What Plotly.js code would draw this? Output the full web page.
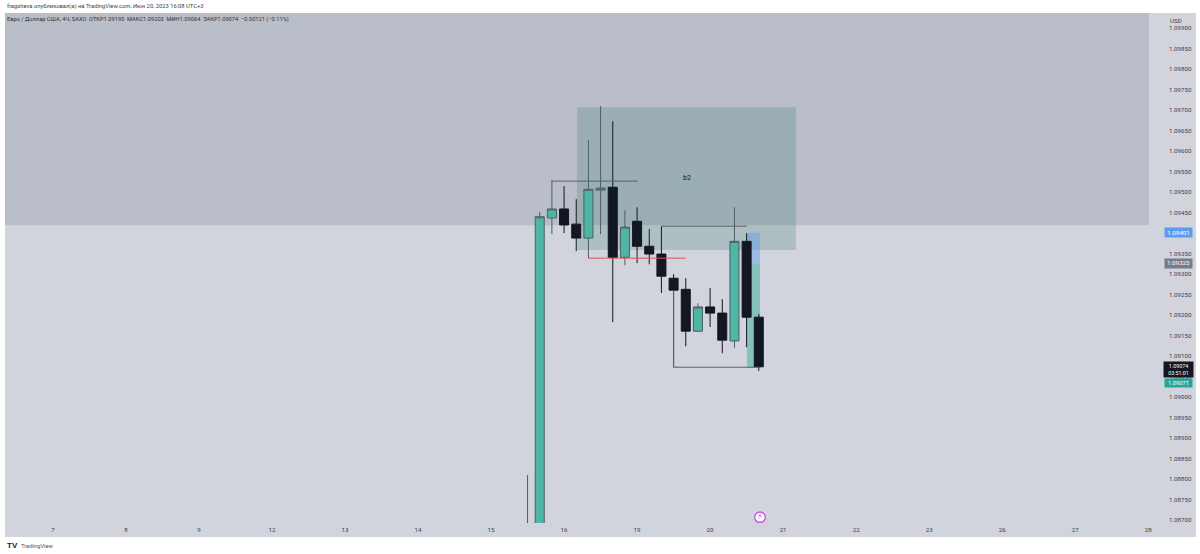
<!DOCTYPE html>
<html>
<head>
<meta charset="utf-8">
<script src="https://cdn.plot.ly/plotly-3.0.1.min.js"></script>
<style>
  html, body { margin: 0; padding: 0; background: #fff; }
  #graph { width: 1200px; height: 554px; }
</style>
</head>
<body>
<div id="graph"></div>
<script>
// bar index 0 is the "7" session, six 4h bars per day
const barIdx = [39, 40, 41, 42, 43, 44, 45, 46, 47, 48, 49, 50, 51, 52, 53, 54, 55, 56, 57, 58]
const opens = [1.0866, 1.0868, 1.09437, 1.09459, 1.09422, 1.09388, 1.09505, 1.09512, 1.09341, 1.09429, 1.09368, 1.09349, 1.0929, 1.09263, 1.09161, 1.0922, 1.09205, 1.09137, 1.0938, 1.09195]
const highs = [1.0881, 1.09452, 1.09529, 1.09515, 1.09483, 1.09627, 1.0971, 1.09673, 1.09456, 1.09463, 1.0941, 1.09417, 1.093, 1.0929, 1.09229, 1.09266, 1.09239, 1.09463, 1.094, 1.09203]
const lows = [1.0865, 1.0867, 1.09398, 1.094, 1.09356, 1.09339, 1.09398, 1.09183, 1.09322, 1.09327, 1.09324, 1.09254, 1.09073, 1.09124, 1.09159, 1.09171, 1.09107, 1.0912, 1.09122, 1.09064]
const closes = [1.0868, 1.0944, 1.09459, 1.0942, 1.09388, 1.09507, 1.0951, 1.09341, 1.09415, 1.09368, 1.09349, 1.09295, 1.09261, 1.09161, 1.0922, 1.09205, 1.09139, 1.0938, 1.09195, 1.09074]

const dayTicks = [0, 6, 12, 18, 24, 30, 36, 42, 48, 54, 60, 66, 72, 78, 84, 90]
const dayLabels = ['7', '8', '9', '12', '13', '14', '15', '16', '19', '20', '21', '22', '23', '26', '27', '28']

// drawings on the chart
const zoneGrayLevel = 1.09419
const zoneGrayEnd = 90.06
const boxX = [43.06, 61.05]
const boxY = [1.09359, 1.09707]
const posX = [57.03, 58.1]
const posStop = 1.09401
const posEntry = 1.09325
const posTarget = 1.09071
const topLineX = [41, 48.05]
const topLineY = [1.09527, 1.09527]
const redLineX = [44, 52]
const redLineY = [1.09339, 1.09339]
const midLineX = [50, 57]
const midLineY = [1.09417, 1.09417]
const lowLineX = [51, 51, 58]
const lowLineY = [1.09261, 1.09073, 1.09073]
const labelPos = [52.1, 1.09534]
const eventMark = [58.1, 1.08707]
const lastPrice = 1.09074

const candles = {
  type: 'candlestick',
  x: barIdx,
  open: opens,
  high: highs,
  low: lows,
  close: closes,
  whiskerwidth: 0,
  increasing: { line: { color: '#4c5f63', width: 1 }, fillcolor: '#4db6a4' },
  decreasing: { line: { color: '#131722', width: 1 }, fillcolor: '#131722' },
  hoverinfo: 'skip',
  showlegend: false
}

function drawLine(xs, ys, color) {
  return {
    type: 'scatter',
    mode: 'lines',
    x: xs,
    y: ys,
    line: { color: color, width: 1 },
    hoverinfo: 'skip',
    showlegend: false
  }
}

const eventTrace = {
  type: 'scatter',
  mode: 'markers+text',
  x: [eventMark[0]],
  y: [eventMark[1]],
  text: ['⚡'],
  textposition: 'middle center',
  textfont: { size: 8, color: '#b13fc9', family: 'DejaVu Sans' },
  marker: { size: 10.5, color: '#ffffff', line: { color: '#c04fd6', width: 1.3 } },
  hoverinfo: 'skip',
  showlegend: false
}

function rect(x0, x1, y0, y1, color) {
  return { type: 'rect', layer: 'below', xref: 'x', yref: 'y', x0: x0, x1: x1, y0: y0, y1: y1, fillcolor: color, line: { width: 0 } }
}

const shapes = [
  // chart + scales background
  { type: 'rect', layer: 'below', xref: 'paper', yref: 'paper', x0: 0, x1: 1.0267, y0: -0.0275, y1: 1, fillcolor: '#d1d4dd', line: { width: 0 } },
  rect(-3.94, zoneGrayEnd, zoneGrayLevel, 1.09937, 'rgba(95,105,120,0.2)'),
  rect(boxX[0], boxX[1], boxY[0], boxY[1], 'rgba(30,110,95,0.2)'),
  rect(posX[0], posX[1], posEntry, posStop, 'rgba(90,150,235,0.42)'),
  rect(posX[0], posX[1], posTarget, posEntry, 'rgba(60,175,155,0.5)')
]

const smallFont = { family: 'Roboto, sans-serif', size: 6.2, color: '#3d4048' }

function priceTag(price, text, bg, shift, w, h, size) {
  return {
    xref: 'paper', yref: 'y', x: 1.01164, y: price, yshift: shift || 0,
    xanchor: 'center', yanchor: 'middle',
    width: w, height: h, align: 'center', valign: 'middle',
    text: text, showarrow: false, bgcolor: bg, borderpad: 0,
    font: { family: 'Roboto, sans-serif', size: size, color: '#ffffff' }
  }
}

const annotations = [
  {
    xref: 'paper', yref: 'paper', x: 0, y: 1.0118, xanchor: 'left', yanchor: 'middle', showarrow: false,
    text: 'fragsheva опубликовал(а) на TradingView.com, Июн 20, 2023 16:08 UTC+3',
    font: { family: 'Roboto, sans-serif', size: 5.8, color: '#3d4048' }
  },
  {
    xref: 'paper', yref: 'paper', x: 0.0003, y: 0.9863, xanchor: 'left', yanchor: 'middle', showarrow: false,
    text: 'Евро / Доллар США, 4Ч, SAXO  ОТКР1.09195  МАКС1.09203  МИН1.09064  ЗАКР1.09074  −0.00121 (−0.11%)',
    font: { family: 'Roboto, sans-serif', size: 5.7, color: '#2f323a' }
  },
  {
    xref: 'paper', yref: 'paper', x: 1.0028, y: 0.984, xanchor: 'left', yanchor: 'middle', showarrow: false,
    text: 'USD', font: smallFont
  },
  {
    xref: 'x', yref: 'y', x: labelPos[0], y: labelPos[1], showarrow: false,
    text: 'b2', font: { family: 'Roboto, sans-serif', size: 7, color: '#131722' }
  },
  priceTag(posStop, '1.09401', '#5b9cf0', 0, 27, 9, 6.2),
  priceTag(posEntry, '1.09325', '#787b86', 0, 27, 8.5, 6.2),
  priceTag(lastPrice, '1.09074<br>03:51:01', '#131722', -3, 29, 15, 5.3),
  priceTag(posTarget, '1.09071', '#26a69a', -14.5, 27, 8, 5.8),
  {
    xref: 'paper', yref: 'paper', x: 0, y: -0.0445, xanchor: 'left', yanchor: 'middle', showarrow: false,
    text: '<b>TV</b>', font: { family: 'Liberation Sans, sans-serif', size: 8, color: '#131722' }
  },
  {
    xref: 'paper', yref: 'paper', x: 0.012, y: -0.0445, xanchor: 'left', yanchor: 'middle', showarrow: false,
    text: 'TradingView', font: { family: 'Roboto, sans-serif', size: 5.8, color: '#50535e' }
  }
]

const layout = {
  width: 1200,
  height: 554,
  margin: { l: 5, r: 35, t: 13, b: 31, pad: 0 },
  paper_bgcolor: '#ffffff',
  plot_bgcolor: 'rgba(0,0,0,0)',
  showlegend: false,
  boxgap: 0.26,
  boxgroupgap: 0,
  shapes: shapes,
  annotations: annotations,
  xaxis: {
    range: [-3.94, 91.38],
    tickmode: 'array',
    tickvals: dayTicks,
    ticktext: dayLabels,
    showgrid: false,
    zeroline: false,
    showline: false,
    ticks: '',
    ticklabelstandoff: 2,
    tickfont: smallFont,
    rangeslider: { visible: false }
  },
  yaxis: {
    side: 'right',
    range: [1.08693, 1.09937],
    dtick: 0.0005,
    tick0: 1.087,
    tickformat: '.5f',
    showgrid: false,
    zeroline: false,
    showline: false,
    ticks: '',
    ticklabelstandoff: 3,
    tickfont: smallFont
  }
}

Plotly.newPlot(
  'graph',
  [
    drawLine(topLineX, topLineY, '#5d6068'),
    drawLine(redLineX, redLineY, '#e0525a'),
    drawLine(midLineX, midLineY, '#5d6068'),
    drawLine(lowLineX, lowLineY, '#5d6068'),
    candles,
    eventTrace
  ],
  layout,
  { staticPlot: true, displayModeBar: false }
)
</script>
</body>
</html>
